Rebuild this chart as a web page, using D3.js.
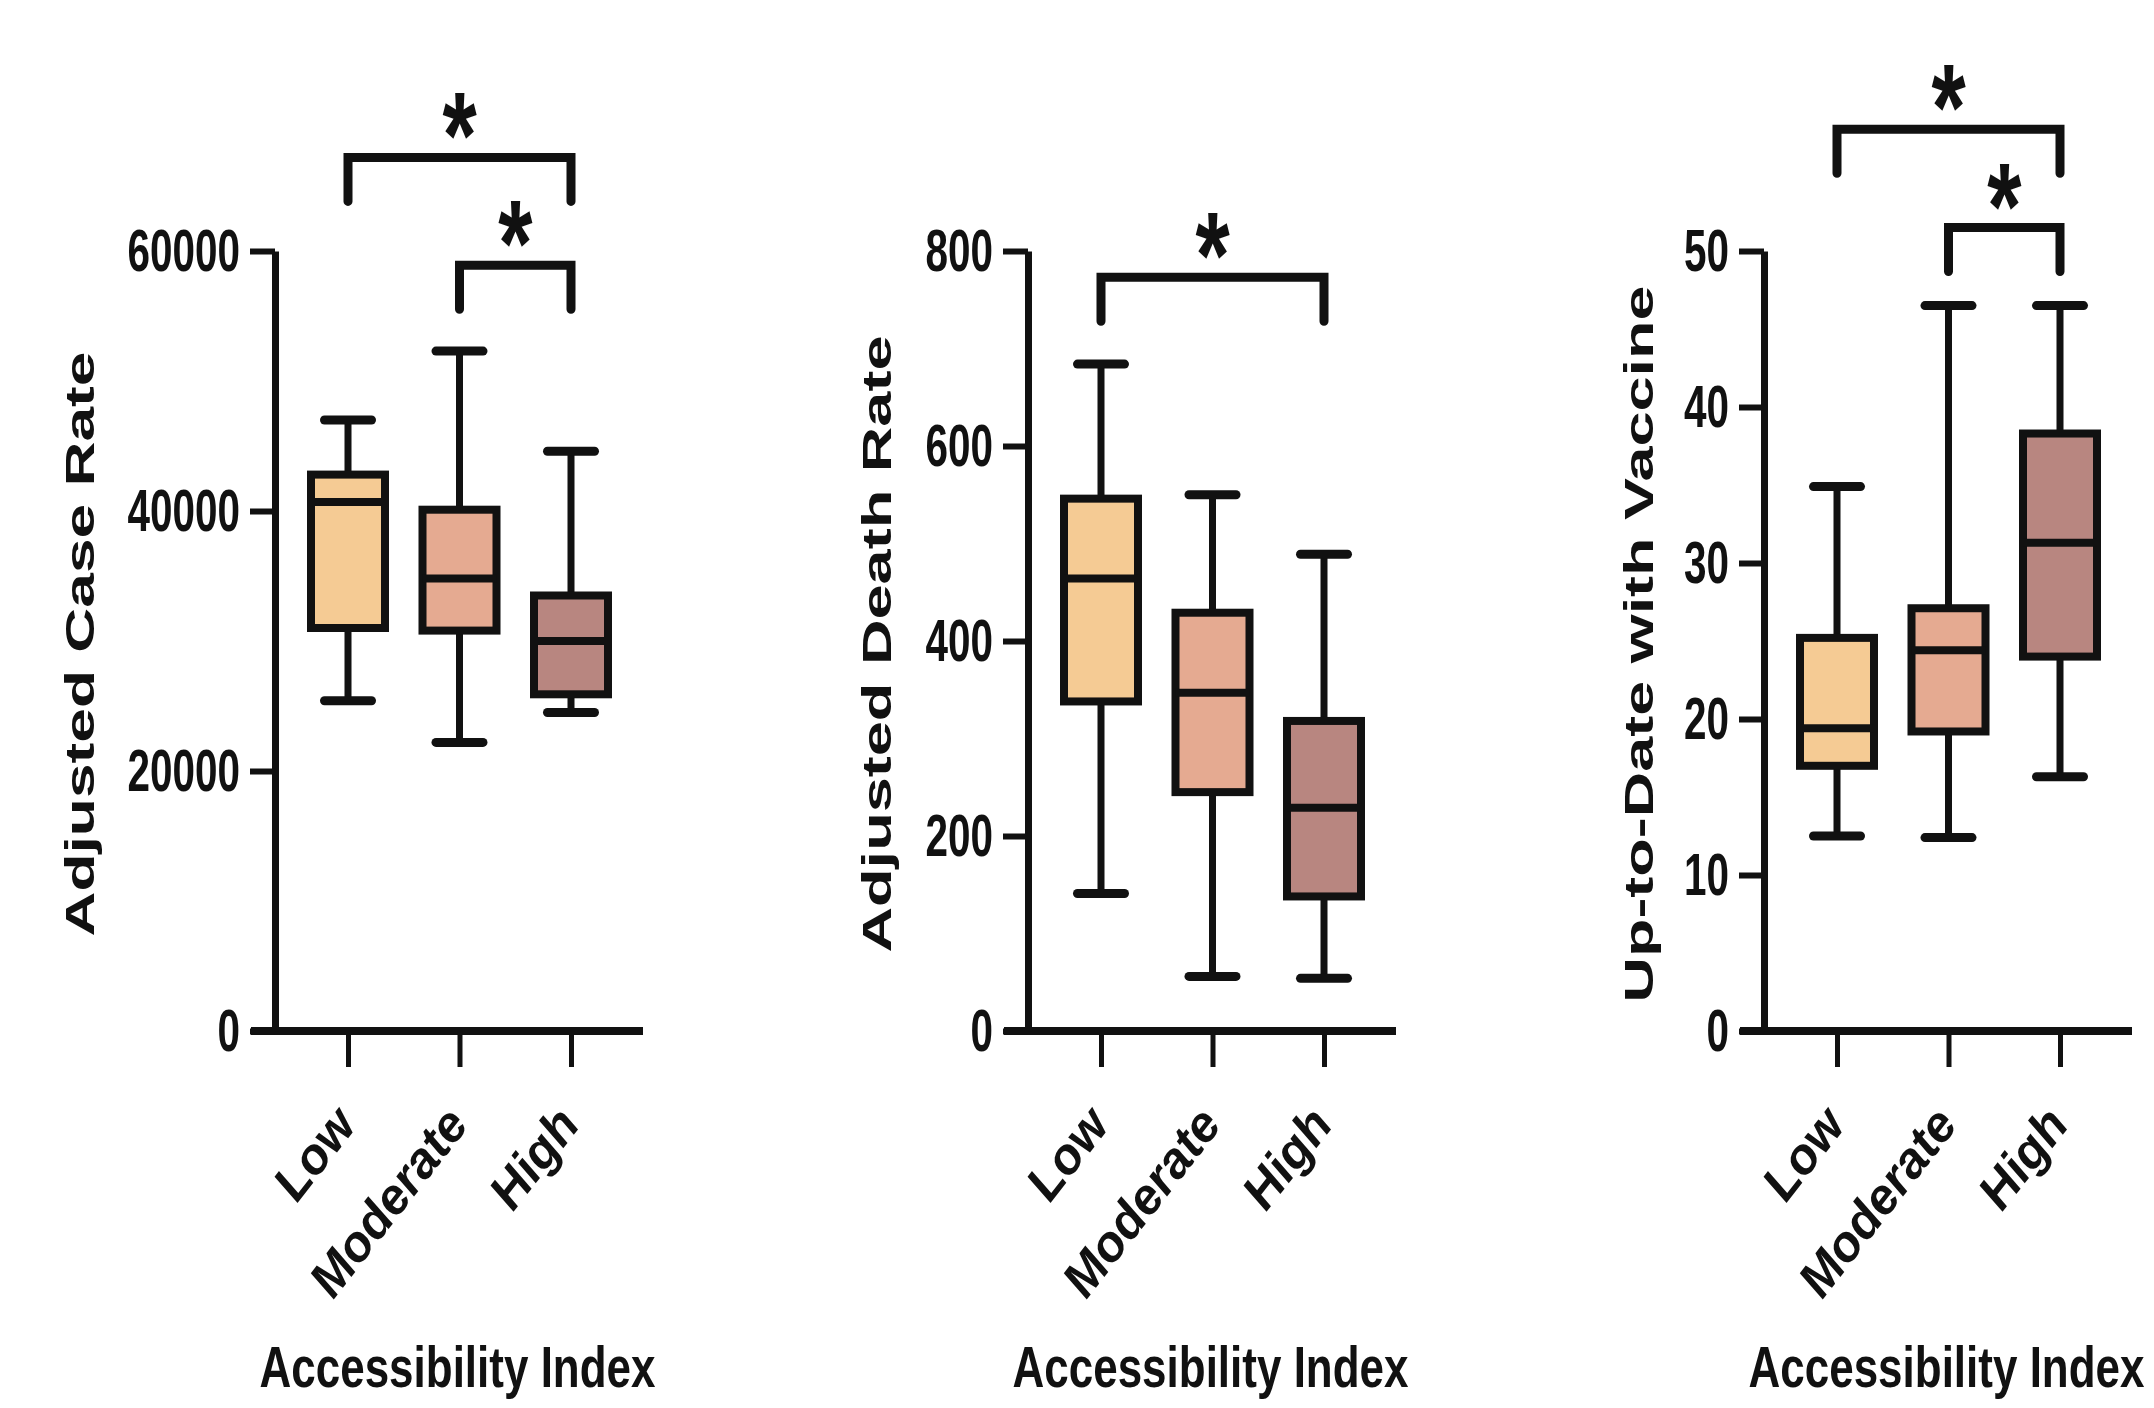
<!DOCTYPE html>
<html>
<head>
<meta charset="utf-8">
<script src="https://cdn.jsdelivr.net/npm/d3@7"></script>
<style>
  body { margin: 0; background: #fff; }
  svg { display: block; }
  text { font-family: "Liberation Sans", Arial, sans-serif; font-weight: bold; fill: #111; }
</style>
</head>
<body>
<div id="main"></div>
<script>

// categories, box stats per category as [min, q1, median, q3, max]
var categories = ["Low", "Moderate", "High"];

var caseRate = [
	[25400, 31000, 40700, 42800, 47000],
	[22200, 30800, 34800, 40100, 52300],
	[24500, 25900, 30000, 33500, 44600]
];
var deathRate = [
	[141, 338, 464, 546, 684],
	[56, 245, 347, 429, 550],
	[54, 138, 229, 318, 489]
];
var vaccine = [
	[12.5, 17.0, 19.4, 25.2, 34.9],
	[12.4, 19.2, 24.4, 27.1, 46.5],
	[16.3, 24.0, 31.3, 38.3, 46.5]
];

var caseTicks = [0, 20000, 40000, 60000];
var deathTicks = [0, 200, 400, 600, 800];
var vaccineTicks = [0, 10, 20, 30, 40, 50];

var yTitles = ["Adjusted Case Rate", "Adjusted Death Rate", "Up-to-Date with Vaccine"];
var xTitle = "Accessibility Index";

// significance brackets: from, to, bracket level (data units)
var caseSig = [["Low", "High", 67200], ["Moderate", "High", 58900]];
var deathSig = [["Low", "High", 773]];
var vaccineSig = [["Low", "High", 57.8], ["Moderate", "High", 51.5]];

var fills = ["#f5cb94", "#e5aa91", "#b88680"];
var ink = "#111";

//Width and height
var w = 2154,
	h = 1408;

var y0 = 1031,
	yTop = 251;

var panels = [
	{ data: caseRate, ticks: caseTicks, sig: caseSig, title: yTitles[0], ax: 275, titleX: 94, titleLen: 585 },
	{ data: deathRate, ticks: deathTicks, sig: deathSig, title: yTitles[1], ax: 1028, titleX: 891, titleLen: 617 },
	{ data: vaccine, ticks: vaccineTicks, sig: vaccineSig, title: yTitles[2], ax: 1764, titleX: 1653, titleLen: 717 }
];

var svg = d3.select("#main")
	.append("svg")
	.attr("width", w)
	.attr("height", h);

svg.append("rect")
	.attr("width", w)
	.attr("height", h)
	.attr("fill", "#fff");

panels.forEach(function(p) {

	var g = svg.append("g");

	var x = d3.scalePoint()
		.domain(categories)
		.range([p.ax + 73, p.ax + 296]);

	var y = d3.scaleLinear()
		.domain([0, d3.max(p.ticks)])
		.range([y0, yTop]);

	// x axis line (runs a bit left of the y axis)
	g.append("line")
		.attr("x1", p.ax - 24)
		.attr("x2", p.ax + 368)
		.attr("y1", y0)
		.attr("y2", y0)
		.attr("stroke", ink)
		.attr("stroke-width", 8);

	// x axis ticks + rotated labels
	var xAxis = g.append("g")
		.attr("transform", "translate(0," + y0 + ")")
		.call(d3.axisBottom(x).tickSize(36).tickSizeOuter(0));
	xAxis.select(".domain").remove();
	xAxis.selectAll(".tick line")
		.attr("stroke", ink)
		.attr("stroke-width", 5);
	xAxis.selectAll(".tick text")
		.attr("x", null)
		.attr("y", null)
		.attr("dy", null)
		.attr("transform", "translate(10,94) rotate(-52)")
		.style("text-anchor", "end")
		.style("font-size", "50px")
		.style("font-style", "italic")
		.attr("fill", ink);

	// y axis
	var yAxis = g.append("g")
		.attr("transform", "translate(" + p.ax + ",0)")
		.call(d3.axisLeft(y)
			.tickValues(p.ticks)
			.tickFormat(d3.format("d"))
			.tickSize(25)
			.tickSizeOuter(0)
			.tickPadding(10));
	yAxis.select(".domain")
		.attr("stroke", ink)
		.attr("stroke-width", 7);
	yAxis.selectAll(".tick line")
		.attr("stroke", ink)
		.attr("stroke-width", 6);
	yAxis.selectAll(".tick text")
		.style("font-size", "60px")
		.attr("fill", ink)
		.attr("textLength", function(d) { return String(d).length * 22.5; })
		.attr("lengthAdjust", "spacingAndGlyphs");

	// y title
	g.append("text")
		.attr("transform", "translate(" + p.titleX + "," + ((y0 + yTop) / 2 + 3) + ") rotate(-90)")
		.attr("text-anchor", "middle")
		.style("font-size", "41px")
		.attr("textLength", p.titleLen)
		.attr("lengthAdjust", "spacingAndGlyphs")
		.text(p.title);

	// x title
	g.append("text")
		.attr("x", x("Moderate") - 2)
		.attr("y", 1387)
		.attr("text-anchor", "middle")
		.style("font-size", "58px")
		.attr("textLength", 396)
		.attr("lengthAdjust", "spacingAndGlyphs")
		.text(xTitle);

	// boxes
	var boxW = 74,
		capW = 47;

	var box = g.selectAll(".box")
		.data(p.data)
		.enter()
		.append("g")
		.attr("class", "box");

	// whiskers
	box.append("line")
		.attr("x1", function(d, i) { return x(categories[i]); })
		.attr("x2", function(d, i) { return x(categories[i]); })
		.attr("y1", function(d) { return y(d[0]); })
		.attr("y2", function(d) { return y(d[4]); })
		.attr("stroke", ink)
		.attr("stroke-width", 7);

	// caps
	[0, 4].forEach(function(k) {
		box.append("line")
			.attr("x1", function(d, i) { return x(categories[i]) - capW / 2; })
			.attr("x2", function(d, i) { return x(categories[i]) + capW / 2; })
			.attr("y1", function(d) { return y(d[k]); })
			.attr("y2", function(d) { return y(d[k]); })
			.attr("stroke", ink)
			.attr("stroke-width", 9)
			.attr("stroke-linecap", "round");
	});

	box.append("rect")
		.attr("x", function(d, i) { return x(categories[i]) - boxW / 2; })
		.attr("y", function(d) { return y(d[3]); })
		.attr("width", boxW)
		.attr("height", function(d) { return y(d[1]) - y(d[3]); })
		.attr("fill", function(d, i) { return fills[i]; })
		.attr("stroke", ink)
		.attr("stroke-width", 8);

	// median
	box.append("line")
		.attr("x1", function(d, i) { return x(categories[i]) - boxW / 2; })
		.attr("x2", function(d, i) { return x(categories[i]) + boxW / 2; })
		.attr("y1", function(d) { return y(d[2]); })
		.attr("y2", function(d) { return y(d[2]); })
		.attr("stroke", ink)
		.attr("stroke-width", 8);

	// significance brackets
	var leg = 44;
	var sig = g.selectAll(".sig")
		.data(p.sig)
		.enter()
		.append("g")
		.attr("class", "sig");

	sig.append("path")
		.attr("d", function(d) {
			var a = x(d[0]), b = x(d[1]), yy = y(d[2]);
			return "M" + a + "," + (yy + leg) + "V" + yy + "H" + b + "V" + (yy + leg);
		})
		.attr("fill", "none")
		.attr("stroke", ink)
		.attr("stroke-width", 9)
		.attr("stroke-linecap", "round")
		.attr("stroke-linejoin", "miter");

	sig.append("text")
		.attr("transform", function(d) {
			return "translate(" + ((x(d[0]) + x(d[1])) / 2) + "," + (y(d[2]) - 50) + ") scale(1,1.4)";
		})
		.attr("text-anchor", "middle")
		.attr("y", 50)
		.style("font-size", "88px")
		.text("*");
});

</script>
</body>
</html>
